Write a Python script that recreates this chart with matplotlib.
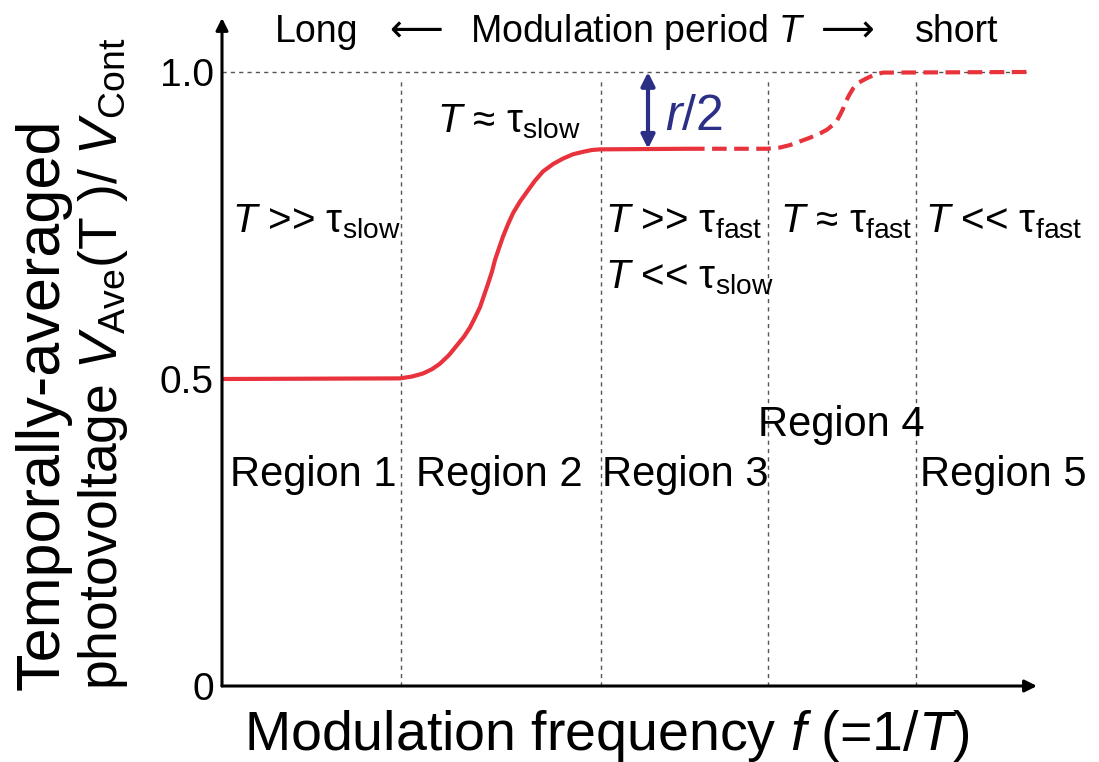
import matplotlib
matplotlib.use("Agg")
import matplotlib.pyplot as plt

plt.rcParams['font.family'] = ['Liberation Sans', 'DejaVu Sans']
plt.rcParams['mathtext.fontset'] = 'custom'
plt.rcParams['mathtext.rm'] = 'Liberation Sans'
plt.rcParams['mathtext.it'] = 'Liberation Sans:italic'
plt.rcParams['mathtext.bf'] = 'Liberation Sans:bold'

# datos (x en unidades arbitrarias de frecuencia)
solid_x = [0, 1.78, 1.90, 2.01, 2.10, 2.18, 2.27, 2.35, 2.42, 2.48, 2.53, 2.58,
           2.62, 2.66, 2.70, 2.73, 2.77, 2.81, 2.86, 2.91, 2.98, 3.05, 3.13,
           3.21, 3.31, 3.41, 3.51, 3.61, 3.70, 3.78, 4.68]
solid_y = [0.5, 0.501, 0.504, 0.509, 0.516, 0.525, 0.539, 0.555, 0.569, 0.584,
           0.600, 0.617, 0.636, 0.655, 0.675, 0.694, 0.713, 0.732, 0.752, 0.770,
           0.789, 0.805, 0.823, 0.838, 0.850, 0.859, 0.866, 0.870, 0.873, 0.874,
           0.875]
dash_x = [4.68, 5.45, 5.58, 5.68, 5.78, 5.88, 5.98, 6.05, 6.11, 6.15, 6.18, 6.21,
          6.23, 6.27, 6.31, 6.37, 6.45, 6.53, 6.61, 8.05]
dash_y = [0.875, 0.875, 0.877, 0.881, 0.887, 0.893, 0.900, 0.906, 0.914, 0.921,
          0.930, 0.940, 0.949, 0.962, 0.973, 0.983, 0.990, 0.996, 0.999, 1.0]
boundaries = [1.79, 3.79, 5.46, 6.94]
level_full = 1.0
level_half = 0.875
yticks = [0, 0.5, 1.0]
yticklabels = ['0', '0.5', '1.0']

regions = ['Region 1', 'Region 2', 'Region 3', 'Region 4', 'Region 5']
region_pos = [(0.08, 0.326), (1.94, 0.326), (3.80, 0.326), (5.36, 0.407), (6.98, 0.326)]
conds = [r'$T$ >> $\mathrm{τ}_{\mathrm{slow}}$', r'$T$ ≈ $\mathrm{τ}_{\mathrm{slow}}$',
         r'$T$ >> $\mathrm{τ}_{\mathrm{fast}}$', r'$T$ << $\mathrm{τ}_{\mathrm{slow}}$',
         r'$T$ ≈ $\mathrm{τ}_{\mathrm{fast}}$', r'$T$ << $\mathrm{τ}_{\mathrm{fast}}$']
cond_pos = [(0.10, 0.738), (2.15, 0.902), (3.83, 0.738), (3.83, 0.647),
            (5.58, 0.738), (7.03, 0.738)]

RED = '#e8323c'
NAVY = '#2b2f86'
GRAY = '#555555'

fig = plt.figure(figsize=(10.99, 7.62), dpi=100)
ax = fig.add_axes([222 / 1099, 76 / 762, 818 / 1099, 671 / 762])
ax.set_xlim(0, 8.18)
ax.set_ylim(0, 671 / 614)
for s in ax.spines.values():
    s.set_visible(False)
ax.set_xticks([])
ax.set_yticks(yticks)
ax.set_yticklabels(yticklabels, fontsize=28)
ax.tick_params(axis='y', length=0, pad=6)

# lineas de referencia
ax.plot([0, dash_x[-1]], [level_full, level_full], color=GRAY, lw=1,
        linestyle=(0, (3, 3)))
for b in boundaries:
    ax.plot([b, b], [0, 0.985], color=GRAY, lw=1, linestyle=(0, (3, 3)))

# curva
ax.plot(solid_x, solid_y, color=RED, lw=3, solid_capstyle='butt',
        solid_joinstyle='round')
ax.plot(dash_x, dash_y, color=RED, lw=3, linestyle=(0, (3.5, 1.8)))

# ejes con flecha
ax.annotate('', xy=(8.15, 0), xytext=(0, 0), annotation_clip=False,
            arrowprops=dict(arrowstyle='-|>', color='black', lw=2.2,
                            mutation_scale=18, shrinkA=0, shrinkB=0))
ax.annotate('', xy=(0, 1.088), xytext=(0, 0), annotation_clip=False,
            arrowprops=dict(arrowstyle='-|>', color='black', lw=2.2,
                            mutation_scale=18, shrinkA=0, shrinkB=0))

# flecha r/2
ax.annotate('', xy=(4.26, level_full), xytext=(4.26, level_half),
            arrowprops=dict(arrowstyle='<|-|>', color=NAVY, lw=3,
                            mutation_scale=20, shrinkA=0, shrinkB=0))
ax.text(4.43, 0.906, r'$r$/2', color=NAVY, fontsize=36)

for name, (x, y) in zip(regions, region_pos):
    ax.text(x, y, name, fontsize=30)
for c, (x, y) in zip(conds, cond_pos):
    ax.text(x, y, c, fontsize=29)

# texto superior
ytop = 1.049
ax.text(0.53, ytop, 'Long', fontsize=27, clip_on=False)
ax.text(1.94, ytop, '⟵', fontsize=27, ha='center', family='DejaVu Sans', clip_on=False)
ax.text(2.48, ytop, r'Modulation period $T$', fontsize=27, clip_on=False)
ax.text(6.26, ytop, '⟶', fontsize=27, ha='center', family='DejaVu Sans', clip_on=False)
ax.text(6.93, ytop, 'short', fontsize=27, clip_on=False)

fig.text(607 / 1099, 12 / 762, r'Modulation frequency $f$ (=1/$T$)', fontsize=40,
         ha='center', va='baseline')
fig.text(43 / 1099, 72 / 762, 'Temporally-averaged', fontsize=44, rotation=90,
         ha='center', va='bottom')
fig.text(103 / 1099, 72 / 762,
         r'photovoltage $V_{\mathrm{Ave}}$(T )/ $V_{\mathrm{Cont}}$',
         fontsize=38.5, rotation=90, ha='center', va='bottom')

fig.savefig('out.png', dpi=100)
